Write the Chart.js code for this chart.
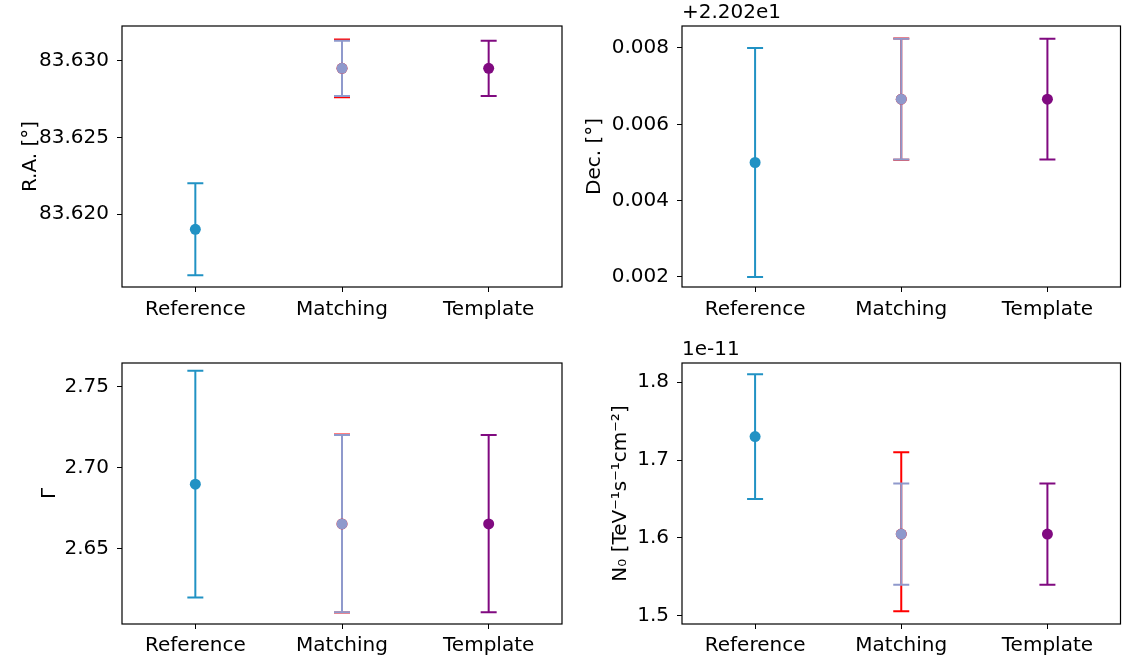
<!DOCTYPE html>
<html>
<head>
    <script src="https://cdn.jsdelivr.net/npm/chart.js"></script>
    <style>
        body { margin: 0; background: #fff; }
        .panel { position: absolute; }
    </style>
</head>
<body>
    <div class="panel" style="left:0;top:0"><canvas id="raChart" width="570" height="332"></canvas></div>
    <div class="panel" style="left:570px;top:0"><canvas id="decChart" width="556" height="332"></canvas></div>
    <div class="panel" style="left:0;top:332px"><canvas id="gammaChart" width="570" height="332"></canvas></div>
    <div class="panel" style="left:570px;top:332px"><canvas id="normChart" width="556" height="332"></canvas></div>

    <script>
        const categories = ['Reference', 'Matching', 'Template'];

        // R.A. [deg]
        const raValue = [83.6190, 83.6295, 83.6295];
        const raLow = [83.6160, 83.6277, 83.6277];
        const raHigh = [83.6220, 83.6313, 83.6313];
        const raRedLow = 83.62762;
        const raRedHigh = 83.63138;
        const raTicks = [83.620, 83.625, 83.630];

        // Dec. [deg], shown as offset from 22.02
        const decValue = [0.00500, 0.00666, 0.00666];
        const decLow = [0.00200, 0.00508, 0.00508];
        const decHigh = [0.00800, 0.00824, 0.00824];
        const decRedLow = 0.00507;
        const decRedHigh = 0.00825;
        const decTicks = [0.002, 0.004, 0.006, 0.008];

        // spectral index
        const gammaValue = [2.690, 2.6655, 2.6655];
        const gammaLow = [2.620, 2.611, 2.611];
        const gammaHigh = [2.760, 2.7203, 2.7203];
        const gammaRedLow = 2.6108;
        const gammaRedHigh = 2.7206;
        const gammaTicks = [2.65, 2.70, 2.75];

        // normalisation, units of 1e-11
        const normValue = [1.730, 1.605, 1.605];
        const normLow = [1.650, 1.540, 1.540];
        const normHigh = [1.810, 1.670, 1.670];
        const normRedLow = 1.506;
        const normRedHigh = 1.710;
        const normTicks = [1.5, 1.6, 1.7, 1.8];
    </script>
    <script>
        const BLUE = '#2192c4';
        const RED = '#ff0000';
        const LAVENDER = '#8f99cc';
        const PURPLE = '#800a80';
        const FONT = "'DejaVu Sans', sans-serif";

        const errorBars = {
            id: 'errorBars',
            beforeDatasetsDraw(chart) {
                const ctx = chart.ctx;
                const xs = chart.scales.x, ys = chart.scales.y;
                chart.data.datasets.forEach((ds) => {
                    ctx.save();
                    ctx.strokeStyle = ds.borderColor;
                    ctx.lineWidth = 2;
                    ds.data.forEach((v, i) => {
                        if (v === null) return;
                        const px = xs.getPixelForValue(i);
                        const top = ys.getPixelForValue(ds.errHigh[i]);
                        const bot = ys.getPixelForValue(ds.errLow[i]);
                        ctx.beginPath();
                        ctx.moveTo(px, top); ctx.lineTo(px, bot);
                        ctx.moveTo(px - 8, top); ctx.lineTo(px + 8, top);
                        ctx.moveTo(px - 8, bot); ctx.lineTo(px + 8, bot);
                        ctx.stroke();
                    });
                    ctx.restore();
                });
            },
            afterDraw(chart, args, opts) {
                const ctx = chart.ctx;
                const a = chart.chartArea;
                ctx.save();
                ctx.strokeStyle = '#000';
                ctx.lineWidth = 1.2;
                ctx.strokeRect(a.left, a.top, a.right - a.left, a.bottom - a.top);
                if (opts.offsetText) {
                    ctx.fillStyle = '#000';
                    ctx.font = '20px ' + FONT;
                    ctx.textAlign = 'left';
                    ctx.textBaseline = 'bottom';
                    ctx.fillText(opts.offsetText, a.left, a.top - 3);
                }
                ctx.restore();
            }
        };

        function makePanel(id, cfg) {
            const only = (arr, i) => arr.map((v, j) => (j === i ? v : null));
            const point = (label, color, i, low, high, order) => ({
                label: label,
                data: only(cfg.value, i),
                errLow: only(low, i),
                errHigh: only(high, i),
                borderColor: color,
                backgroundColor: color,
                pointBackgroundColor: color,
                pointBorderWidth: 0,
                pointRadius: 5.5,
                showLine: false,
                order: order,
            });
            const redLow = [null, cfg.redLow, null];
            const redHigh = [null, cfg.redHigh, null];

            return new Chart(id, {
                type: 'line',
                data: {
                    labels: categories,
                    datasets: [
                        point('Reference', BLUE, 0, cfg.low, cfg.high, 0),
                        point('Matching (alt)', RED, 1, redLow, redHigh, 2),
                        point('Matching', LAVENDER, 1, cfg.low, cfg.high, 1),
                        point('Template', PURPLE, 2, cfg.low, cfg.high, 0),
                    ],
                },
                options: {
                    responsive: false,
                    animation: false,
                    layout: { padding: { top: cfg.top, right: cfg.right, left: 0, bottom: 0 } },
                    plugins: {
                        legend: { display: false },
                        tooltip: { enabled: false },
                        errorBars: { offsetText: cfg.offsetText },
                    },
                    scales: {
                        x: {
                            type: 'category',
                            offset: true,
                            grid: { drawOnChartArea: false, tickLength: 5, color: '#000', offset: false },
                            border: { display: false },
                            ticks: { color: '#000', font: { family: FONT, size: 20 }, padding: cfg.xPad, maxRotation: 0 },
                            afterFit: (s) => { s.height = cfg.xHeight; },
                        },
                        y: {
                            min: cfg.min,
                            max: cfg.max,
                            grid: { drawOnChartArea: false, tickLength: 5, color: '#000' },
                            border: { display: false },
                            afterBuildTicks: (s) => { s.ticks = cfg.ticks.map((v) => ({ value: v })); },
                            ticks: {
                                color: '#000',
                                font: { family: FONT, size: 20 },
                                padding: 8,
                                callback: (v) => v.toFixed(cfg.digits),
                            },
                            title: {
                                display: true,
                                text: cfg.title,
                                color: '#000',
                                font: { family: FONT, size: 20 },
                                padding: { top: cfg.titlePad, bottom: 0 },
                            },
                            afterFit: (s) => { s.width = cfg.yWidth; },
                        },
                    },
                },
                plugins: [errorBars],
            });
        }

        makePanel('raChart', {
            value: raValue, low: raLow, high: raHigh, redLow: raRedLow, redHigh: raRedHigh,
            ticks: raTicks, digits: 3, min: 83.61524, max: 83.63226,
            title: 'R.A. [°]', titlePad: 19, top: 26, right: 8, yWidth: 122, xHeight: 45, xPad: 6,
        });
        makePanel('decChart', {
            value: decValue, low: decLow, high: decHigh, redLow: decRedLow, redHigh: decRedHigh,
            ticks: decTicks, digits: 3, min: 0.001738, max: 0.008576,
            title: 'Dec. [°]', titlePad: 13, top: 26, right: 4, yWidth: 112, xHeight: 45, xPad: 6,
            offsetText: '+2.202e1',
        });
        makePanel('gammaChart', {
            value: gammaValue, low: gammaLow, high: gammaHigh, redLow: gammaRedLow, redHigh: gammaRedHigh,
            ticks: gammaTicks, digits: 2, min: 2.6037, max: 2.7648,
            title: 'Γ', titlePad: 38, top: 31, right: 8, yWidth: 122, xHeight: 40, xPad: 5,
        });
        makePanel('normChart', {
            value: normValue, low: normLow, high: normHigh, redLow: normRedLow, redHigh: normRedHigh,
            ticks: normTicks, digits: 1, min: 1.4897, max: 1.8244,
            title: 'N₀ [TeV⁻¹s⁻¹cm⁻²]', titlePad: 39, top: 31, right: 4, yWidth: 112, xHeight: 40, xPad: 5,
            offsetText: '1e-11',
        });
    </script>
</body>
</html>
